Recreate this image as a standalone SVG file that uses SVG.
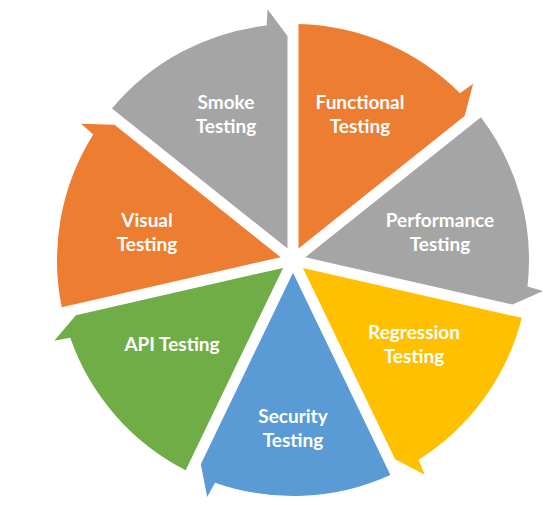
<svg xmlns="http://www.w3.org/2000/svg" xmlns:xlink="http://www.w3.org/1999/xlink" width="558" height="505" viewBox="0 0 558 505">
  <style>
    .lbl { font-family: Lato, "Open Sans", "Liberation Sans", sans-serif; font-weight: bold; font-size: 19px; fill: #FFFFFF; text-anchor: middle; }
    .orange { fill: #ED7D31; }
    .gray { fill: #A5A5A5; }
    .gold { fill: #FFC000; }
    .blue { fill: #5B9BD5; }
    .green { fill: #70AD47; }
  </style>
  <defs>
    <path id="seg" d="M 5.5 -235.94 A 236 236 0 0 1 166.93 -166.82 L 180.11 -176.25 L 171.64 -143.92 L 5.5 -11.42 Z"/>
  </defs>
  <rect width="558" height="505" fill="#FFFFFF"/>
  <g id="functional-testing">
    <use xlink:href="#seg" class="orange" transform="translate(293,260) rotate(0)"/>
    <text class="lbl" x="360" y="109">Functional</text>
    <text class="lbl" x="360" y="133">Testing</text>
  </g>
  <g id="performance-testing">
    <use xlink:href="#seg" class="gray" transform="translate(293,260) rotate(51.428571)"/>
    <text class="lbl" x="440" y="227">Performance</text>
    <text class="lbl" x="440" y="251">Testing</text>
  </g>
  <g id="regression-testing">
    <use xlink:href="#seg" class="gold" transform="translate(293,260) rotate(102.857143)"/>
    <text class="lbl" x="414" y="339">Regression</text>
    <text class="lbl" x="414" y="363">Testing</text>
  </g>
  <g id="security-testing">
    <use xlink:href="#seg" class="blue" transform="translate(293,260) rotate(154.285714)"/>
    <text class="lbl" x="293" y="423">Security</text>
    <text class="lbl" x="293" y="447">Testing</text>
  </g>
  <g id="api-testing">
    <use xlink:href="#seg" class="green" transform="translate(293,260) rotate(205.714286)"/>
    <text class="lbl" x="172" y="351">API Testing</text>
  </g>
  <g id="visual-testing">
    <use xlink:href="#seg" class="orange" transform="translate(293,260) rotate(257.142857)"/>
    <text class="lbl" x="147" y="227">Visual</text>
    <text class="lbl" x="147" y="251">Testing</text>
  </g>
  <g id="smoke-testing">
    <use xlink:href="#seg" class="gray" transform="translate(293,260) rotate(308.571429)"/>
    <text class="lbl" x="226" y="109">Smoke</text>
    <text class="lbl" x="226" y="133">Testing</text>
  </g>
</svg>
